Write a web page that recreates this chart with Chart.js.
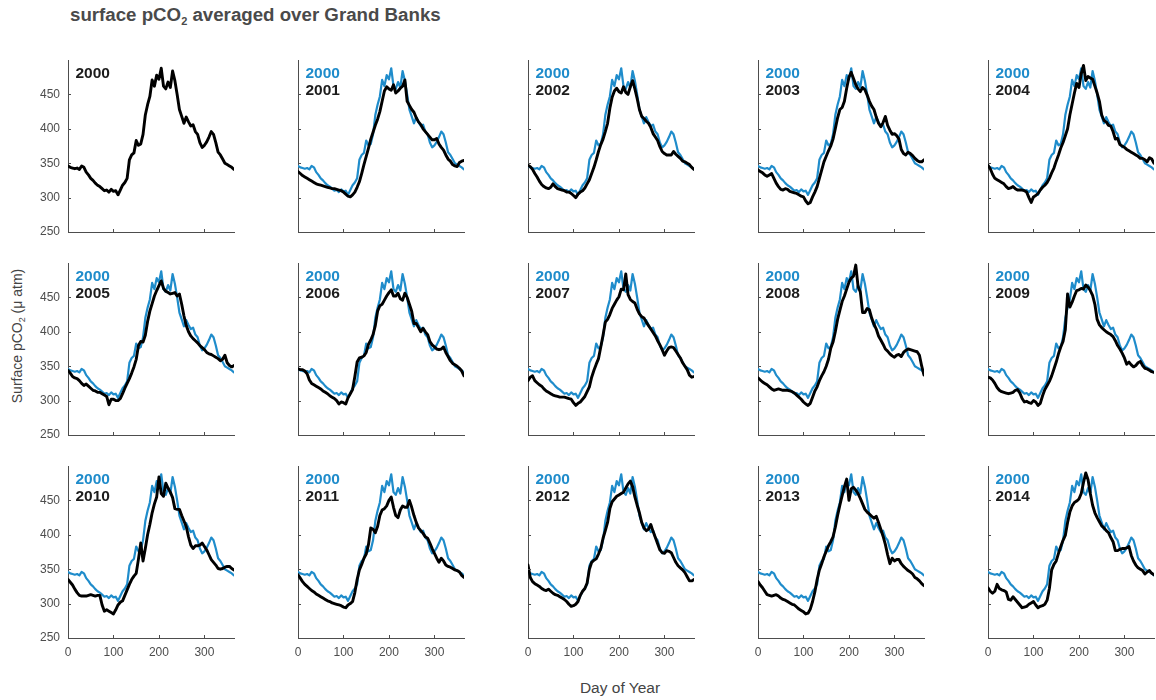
<!DOCTYPE html>
<html>
<head>
<meta charset="utf-8">
<script src="https://cdn.jsdelivr.net/npm/chart.js@4.4.1/dist/chart.umd.min.js"></script>
<style>
  html, body { margin: 0; padding: 0; background: #fff; }
  body { width: 1156px; height: 700px; position: relative; overflow: hidden;
         font-family: 'Liberation Sans', Arial, Helvetica, sans-serif; }
  canvas { position: absolute; }
  #title { position: absolute; left: 70px; top: 5px; font-weight: bold; font-size: 18.7px;
           line-height: 19px; color: #4a4a4a; white-space: nowrap; }
  #title sub { font-size: 11px; line-height: 0; vertical-align: -4px; }
  #ylab { position: absolute; left: 17px; top: 336px; transform: translate(-50%, -50%) rotate(-90deg);
          font-size: 14px; line-height: 14px; color: #444; white-space: nowrap; }
  #ylab sub { font-size: 9px; line-height: 0; vertical-align: -3px; }
  #xlab { position: absolute; left: 620px; top: 680px; transform: translateX(-50%);
          font-size: 15.5px; line-height: 15px; color: #444; white-space: nowrap; }
</style>
</head>
<body>
<div id="title">surface pCO<sub>2</sub> averaged over Grand Banks</div>
<div id="ylab">Surface pCO<sub>2</sub> (&#956; atm)</div>
<div id="xlab">Day of Year</div>
<script>
// Day of year for each sample
const DAYS = [0,5,10,15,20,25,30,35,40,45,50,55,60,65,70,75,80,85,90,95,
  100,105,110,115,120,125,130,135,140,145,150,155,160,165,170,175,180,185,190,195,
  200,205,210,215,220,225,230,235,240,245,250,255,260,265,270,275,280,285,290,295,
  300,305,310,315,320,325,330,335,340,345,350,355,360,365];

// Surface pCO2 (uatm), Grand Banks average, one series per year
const PCO2_2000 = [346,344,343,342,343,341,346,344,337,333,
  328,325,321,318,316,313,310,311,308,312,
  309,310,304,311,318,322,328,355,362,365,
  383,376,378,392,420,435,447,471,462,478,
  472,488,462,458,468,460,484,470,450,428,
  418,408,417,410,404,406,396,392,380,373,
  376,381,388,396,392,380,366,362,356,350,
  348,346,344,341];
const PCO2_2001 = [338,335,332,330,328,326,324,322,320,319,
  318,317,316,315,314,313,313,312,311,310,
  308,305,302,301,304,308,315,323,335,348,
  360,372,385,395,405,414,425,440,455,461,
  458,456,464,452,455,459,462,471,440,434,
  428,424,416,410,406,400,396,392,388,384,
  384,386,378,373,369,362,356,353,348,346,
  345,351,353,354];
const PCO2_2002 = [347,345,341,335,330,324,319,316,314,313,
  315,320,316,313,312,311,310,308,308,306,
  303,300,305,308,310,314,320,326,335,344,
  355,367,377,385,396,408,430,446,455,459,
  454,452,461,453,450,461,470,458,444,428,
  418,415,411,408,402,393,388,383,374,367,
  364,362,362,362,367,363,360,357,353,352,
  350,348,344,341];
const PCO2_2003 = [340,338,336,333,331,333,335,328,321,316,
  312,311,313,312,309,308,307,306,304,302,
  301,295,291,293,301,308,316,328,340,352,
  360,368,375,385,400,416,428,431,440,459,
  475,482,473,464,458,454,460,457,449,440,
  433,428,417,408,403,409,418,405,398,392,
  393,390,385,370,364,362,366,364,361,357,
  354,352,352,355];
const PCO2_2004 = [347,342,334,328,326,324,322,320,316,313,
  314,316,313,311,311,311,310,308,300,293,
  301,303,306,311,315,318,322,328,336,343,
  353,362,372,380,390,400,420,436,452,466,
  460,480,492,470,476,474,472,462,452,440,
  420,412,410,405,404,396,385,386,377,375,
  373,370,368,366,364,362,360,357,357,355,
  352,358,356,350];
const PCO2_2005 = [344,340,335,333,332,329,325,322,324,321,
  318,315,314,312,312,310,308,306,294,302,
  302,300,300,303,310,318,325,332,340,349,
  360,380,386,385,395,415,430,441,452,460,
  467,474,463,459,457,455,456,457,452,455,
  440,423,409,400,394,390,387,384,380,377,
  374,370,368,367,365,363,361,358,360,366,
  355,351,349,351];
const PCO2_2006 = [346,345,345,343,339,330,325,323,321,319,
  317,314,312,310,307,305,303,300,295,298,
  297,295,304,310,316,335,356,362,363,365,
  370,382,388,396,409,430,438,440,446,452,
  457,461,452,452,456,448,446,456,450,440,
  430,412,412,406,400,405,400,396,386,381,
  378,375,374,375,378,370,364,358,354,352,
  350,347,343,336];
const PCO2_2007 = [329,334,336,329,326,323,321,317,314,312,
  310,308,307,306,305,305,305,304,303,302,
  297,293,296,298,302,306,313,320,334,344,
  353,361,378,395,414,418,425,434,440,446,
  451,462,461,484,454,447,444,442,433,426,
  422,420,414,409,404,399,394,387,381,374,
  366,372,377,378,377,372,367,362,355,350,
  345,337,334,335];
const PCO2_2008 = [333,330,327,325,323,320,317,315,316,317,
  316,315,315,315,314,313,311,308,305,302,
  298,295,293,296,305,314,320,329,336,342,
  350,360,376,385,400,418,431,444,452,462,
  472,478,481,497,466,458,428,428,434,432,
  420,411,404,394,388,382,375,372,368,365,
  363,366,367,364,370,373,375,374,373,372,
  371,366,350,337];
const PCO2_2009 = [334,333,330,325,319,315,313,312,311,310,
  311,312,315,316,311,303,298,299,297,296,
  300,298,293,296,307,316,322,328,336,346,
  356,368,378,386,403,455,436,443,452,460,
  461,463,462,468,465,460,453,440,418,410,
  406,403,400,398,396,393,387,380,375,369,
  362,353,356,352,349,351,355,357,351,347,
  346,344,342,341];
const PCO2_2010 = [335,331,327,321,316,312,311,311,311,312,
  313,312,311,312,312,298,289,291,289,287,
  285,291,298,302,304,312,320,328,335,340,
  344,365,388,362,380,400,415,432,445,455,
  484,460,456,475,468,462,454,438,437,437,
  428,420,412,397,385,380,384,384,385,388,
  383,378,371,364,360,356,351,350,351,353,
  354,354,351,349];
const PCO2_2011 = [342,337,332,328,325,322,319,317,314,312,
  310,308,306,304,303,301,300,299,298,297,
  295,294,298,300,303,316,335,349,357,366,
  372,386,410,408,403,412,428,436,438,442,
  450,455,440,428,425,436,442,440,440,450,
  440,428,418,410,406,402,397,395,388,380,
  373,366,360,366,362,356,354,353,351,349,
  348,346,341,338];
const PCO2_2012 = [356,338,332,329,327,325,322,320,319,321,
  318,315,313,312,310,308,306,303,299,296,
  297,299,303,312,318,322,330,350,360,363,
  365,372,380,395,406,418,438,448,452,456,
  458,460,462,468,474,478,470,455,443,432,
  418,410,406,408,415,405,396,387,378,374,
  373,377,376,374,367,360,355,352,349,345,
  339,333,333,335];
const PCO2_2013 = [332,327,323,318,313,312,311,312,313,311,
  308,306,305,303,301,299,298,295,292,290,
  288,285,286,292,303,317,335,349,358,368,
  376,384,390,397,411,428,443,457,470,481,
  450,467,469,465,460,453,445,437,433,430,
  427,424,427,418,408,398,386,371,358,366,
  362,364,364,358,354,351,348,346,343,338,
  336,333,329,326];
const PCO2_2014 = [323,318,315,318,328,322,320,319,317,306,
  305,310,306,302,298,294,295,296,299,301,
  303,298,294,296,297,299,305,322,349,357,
  362,373,383,392,399,418,433,442,447,449,
  452,460,476,490,480,460,443,432,425,419,
  413,410,406,403,396,390,377,377,379,380,
  380,381,383,370,362,356,352,350,348,343,
  346,348,344,342];

// Panel order (row by row) and the reference year drawn in every panel
const YEARS = [2000,2001,2002,2003,2004,2005,2006,2007,2008,2009,2010,2011,2012,2013,2014];
const BASE_YEAR = 2000;
const SERIES = {
  2000: PCO2_2000, 2001: PCO2_2001, 2002: PCO2_2002, 2003: PCO2_2003, 2004: PCO2_2004,
  2005: PCO2_2005, 2006: PCO2_2006, 2007: PCO2_2007, 2008: PCO2_2008, 2009: PCO2_2009,
  2010: PCO2_2010, 2011: PCO2_2011, 2012: PCO2_2012, 2013: PCO2_2013, 2014: PCO2_2014
};

// Axis ticks
const X_TICKS = [0, 100, 200, 300];
const Y_TICKS = [250, 300, 350, 400, 450];

// Styling and grid geometry
const BLUE = '#1f8ccb';
const BLACK = '#000000';
const LABEL_BLACK = '#1c1c1c';
const AXIS = '#4d4d4d';
const FONT = "'Liberation Sans', Arial, Helvetica, sans-serif";
const NCOLS = 5;
const COL_LEFT = 68, COL_STEP = 230;
const ROW_TOPS = [60, 263, 466];
const PLOT_W = 166, PLOT_H = 172;
const PAD_L = 40, PAD_T = 10, PAD_R = 8, PAD_B = 26;

// Inward tick marks plus the year labels in the upper-left corner
const panelDecor = {
  id: 'panelDecor',
  afterDraw(chart, args, opts) {
    const { ctx, chartArea: a, scales: { x, y } } = chart;
    ctx.save();
    ctx.strokeStyle = AXIS;
    ctx.lineWidth = 1;
    ctx.beginPath();
    X_TICKS.forEach(v => {
      const px = Math.round(x.getPixelForValue(v)) + 0.5;
      ctx.moveTo(px, a.bottom); ctx.lineTo(px, a.bottom - 3);
    });
    Y_TICKS.forEach(v => {
      const py = Math.round(y.getPixelForValue(v)) + 0.5;
      ctx.moveTo(a.left, py); ctx.lineTo(a.left + 3, py);
    });
    ctx.stroke();

    ctx.font = 'bold 15.5px ' + FONT;
    ctx.textAlign = 'left';
    ctx.textBaseline = 'alphabetic';
    if (opts.year === BASE_YEAR) {
      ctx.fillStyle = LABEL_BLACK;
      ctx.fillText(String(opts.year), a.left + 7.5, a.top + 17.5);
    } else {
      ctx.fillStyle = BLUE;
      ctx.fillText(String(BASE_YEAR), a.left + 7.5, a.top + 17.5);
      ctx.fillStyle = LABEL_BLACK;
      ctx.fillText(String(opts.year), a.left + 7.5, a.top + 34.5);
    }
    ctx.restore();
  }
};

function points(vals) {
  return DAYS.map((d, i) => ({ x: d, y: vals[i] }));
}

YEARS.forEach((year, idx) => {
  const col = idx % NCOLS, row = Math.floor(idx / NCOLS);
  const canvas = document.createElement('canvas');
  const w = PAD_L + PLOT_W + PAD_R, h = PAD_T + PLOT_H + PAD_B;
  canvas.width = w; canvas.height = h;
  canvas.style.width = w + 'px'; canvas.style.height = h + 'px';
  canvas.style.left = (COL_LEFT + col * COL_STEP - PAD_L) + 'px';
  canvas.style.top = (ROW_TOPS[row] - PAD_T) + 'px';
  document.body.appendChild(canvas);

  const datasets = [
    { data: points(SERIES[year]), borderColor: BLACK, borderWidth: 2.9 }
  ];
  if (year !== BASE_YEAR) {
    datasets.push({ data: points(SERIES[BASE_YEAR]), borderColor: BLUE, borderWidth: 2.2 });
  }

  new Chart(canvas, {
    type: 'line',
    data: { datasets },
    plugins: [panelDecor],
    options: {
      responsive: false,
      animation: false,
      events: [],
      layout: { padding: { left: 0, top: PAD_T, right: PAD_R, bottom: 0 } },
      elements: {
        point: { radius: 0 },
        line: { tension: 0, borderJoinStyle: 'round', borderCapStyle: 'round' }
      },
      plugins: {
        legend: { display: false },
        tooltip: { enabled: false },
        panelDecor: { year }
      },
      scales: {
        x: {
          type: 'linear', min: 0, max: 365,
          afterBuildTicks: s => { s.ticks = X_TICKS.map(v => ({ value: v })); },
          afterFit: s => { s.height = PAD_B; s.paddingLeft = 0; s.paddingRight = 0; s.paddingTop = 0; s.paddingBottom = 0; },
          grid: { display: false, drawTicks: false },
          border: { display: true, color: AXIS, width: 1 },
          ticks: {
            display: row === 2, padding: 7, maxRotation: 0, autoSkip: false,
            color: AXIS, font: { family: FONT, size: 12 }
          }
        },
        y: {
          type: 'linear', min: 250, max: 500,
          afterBuildTicks: s => { s.ticks = Y_TICKS.map(v => ({ value: v })); },
          afterFit: s => { s.width = PAD_L; s.paddingLeft = 0; s.paddingRight = 0; s.paddingTop = 0; s.paddingBottom = 0; },
          grid: { display: false, drawTicks: false },
          border: { display: true, color: AXIS, width: 1 },
          ticks: {
            display: col === 0, padding: 8, autoSkip: false,
            color: AXIS, font: { family: FONT, size: 12 }
          }
        }
      }
    }
  });
});
</script>
</body>
</html>
